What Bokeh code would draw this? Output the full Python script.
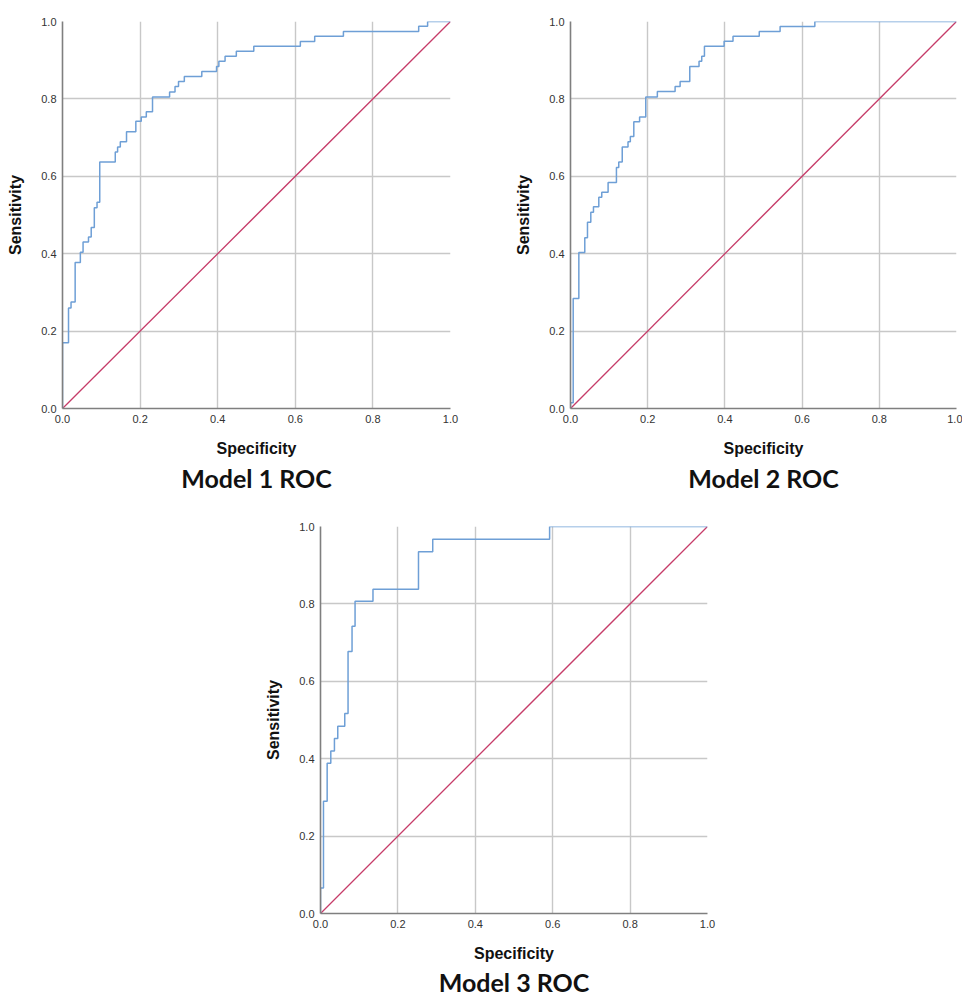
from bokeh.plotting import figure
from bokeh.layouts import column, row
from bokeh.models import Range1d, FixedTicker, PrintfTickFormatter, Title, Spacer
from bokeh.embed import file_html
from bokeh.resources import INLINE

tick_values = [0.0, 0.2, 0.4, 0.6, 0.8, 1.0]
ref_x = [0.0, 1.0]
ref_y = [0.0, 1.0]

# ROC step corners: at x the curve rises to y
m1_x = [0, 0, 0.0155, 0.022, 0.0326, 0.046, 0.053, 0.067, 0.074, 0.082, 0.089, 0.096,
        0.136, 0.142, 0.149, 0.165, 0.189, 0.203, 0.216, 0.232, 0.276, 0.290, 0.299,
        0.314, 0.359, 0.397, 0.403, 0.419, 0.448, 0.493, 0.613, 0.650, 0.724, 0.918,
        0.941, 1.0]
m1_y = [0, 0.17, 0.26, 0.275, 0.377, 0.404, 0.43, 0.443, 0.468, 0.519, 0.533, 0.637,
        0.663, 0.676, 0.689, 0.715, 0.742, 0.753, 0.767, 0.805, 0.818, 0.832, 0.845,
        0.858, 0.871, 0.884, 0.897, 0.91, 0.923, 0.936, 0.948, 0.962, 0.974, 0.988,
        1.0, 1.0]

m2_x = [0, 0, 0.007, 0.0216, 0.037, 0.044, 0.0526, 0.0595, 0.0733, 0.081, 0.0974,
        0.119, 0.125, 0.134, 0.149, 0.155, 0.164, 0.179, 0.195, 0.225, 0.271, 0.284,
        0.309, 0.333, 0.340, 0.347, 0.398, 0.421, 0.489, 0.543, 0.633, 1.0]
m2_y = [0, 0.015, 0.284, 0.403, 0.441, 0.481, 0.507, 0.521, 0.546, 0.559, 0.584,
        0.623, 0.637, 0.676, 0.689, 0.703, 0.741, 0.753, 0.805, 0.819, 0.832, 0.845,
        0.884, 0.897, 0.91, 0.936, 0.949, 0.962, 0.974, 0.987, 1.0, 1.0]

m3_x = [0, 0, 0.0077, 0.0172, 0.0266, 0.036, 0.0446, 0.0627, 0.0712, 0.0815, 0.0893,
        0.1356, 0.2532, 0.290, 0.592, 1.0]
m3_y = [0, 0.066, 0.29, 0.388, 0.42, 0.452, 0.484, 0.517, 0.677, 0.742, 0.807, 0.838,
        0.935, 0.967, 1.0, 1.0]

titles = ["Model 1 ROC", "Model 2 ROC", "Model 3 ROC"]
x_label = "Specificity"
y_label = "Sensitivity"

CURVE = "#6e9fd6"
DIAG = "#c63c69"
GRID = "#c8c8c8"
AXIS = "#7f7f7f"


def step_path(xs, ys):
    px, py = [xs[0]], [ys[0]]
    for i in range(1, len(xs)):
        px.append(xs[i]); py.append(ys[i - 1])
        px.append(xs[i]); py.append(ys[i])
    return px, py


def make_fig(xs, ys, title, fw, fh, bl, bt, br, bb, tstand=3):
    p = figure(frame_width=fw, frame_height=fh, output_backend="svg",
               toolbar_location=None, x_range=Range1d(0, 1), y_range=Range1d(0, 1),
               min_border_left=bl, min_border_top=bt, min_border_right=br,
               min_border_bottom=bb, background_fill_color="white",
               border_fill_color="white", outline_line_color=None)
    for ax in (p.xaxis[0], p.yaxis[0]):
        ax.ticker = FixedTicker(ticks=tick_values)
        ax.formatter = PrintfTickFormatter(format="%.1f")
        ax.major_tick_in = 0
        ax.major_tick_out = 0
        ax.minor_tick_in = 0
        ax.minor_tick_out = 0
        ax.axis_line_color = AXIS
        ax.axis_line_width = 1.6
        ax.major_label_text_font = "Liberation Sans"
        ax.major_label_text_font_size = "11px"
        ax.major_label_text_color = "#333333"
        ax.axis_label_text_font = "Liberation Sans"
        ax.axis_label_text_font_style = "bold"
        ax.axis_label_text_font_size = "16px"
        ax.axis_label_text_color = "#111111"
    p.xaxis.axis_label = x_label
    p.yaxis.axis_label = y_label
    p.xaxis.major_label_standoff = 6
    p.xaxis.axis_label_standoff = 14
    p.yaxis.major_label_standoff = 6
    p.yaxis.axis_label_standoff = 14
    p.grid.ticker = FixedTicker(ticks=tick_values)
    p.grid.grid_line_color = GRID
    p.grid.grid_line_width = 1.4
    p.line(ref_x, ref_y, line_color=DIAG, line_width=1.3)
    sx, sy = step_path(xs, ys)
    p.line(sx, sy, line_color=CURVE, line_width=1.5)
    t = Title(text=title, align="center", text_font="Lato", text_font_style="bold",
              text_font_size="25px", text_color="#111111", standoff=tstand)
    p.add_layout(t, "below")
    return p


p1 = make_fig(m1_x, m1_y, titles[0], 388, 387, 62, 21, 62, 92)
p2 = make_fig(m2_x, m2_y, titles[1], 386, 387, 58, 20, 6, 93)
p3 = make_fig(m3_x, m3_y, titles[2], 387, 387, 58, 26, 40, 80, tstand=0)

layout = column(row(p1, p2), row(Spacer(width=262, height=10), p3))

open("out.html", "w").write(file_html(layout, INLINE))
